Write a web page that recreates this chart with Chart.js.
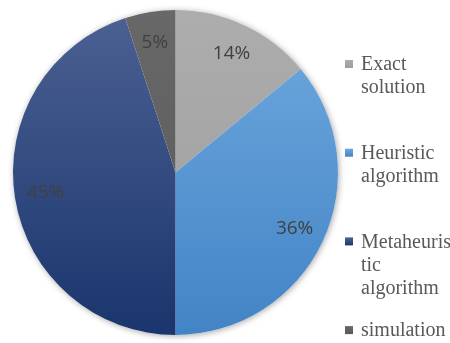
<!DOCTYPE html>
<html>
<head>
<meta charset="utf-8">
<script src="https://cdn.jsdelivr.net/npm/chart.js@4/dist/chart.umd.min.js"></script>
<style>
  html, body { margin: 0; padding: 0; background: #fff; }
  #wrap { width: 450px; height: 343px; }
  .preload { position: absolute; left: -999px; top: 0; }
</style>
</head>
<body>
<div class="preload" style="font-family:'Liberation Serif'">Exact</div>
<div class="preload" style="font-family:'Open Sans'">14%</div>
<div id="wrap"><canvas id="pie"></canvas></div>
<script>
// chart data
const categories = [
  ['Exact', 'solution'],
  ['Heuristic', 'algorithm'],
  ['Metaheuris', 'tic', 'algorithm'],
  ['simulation']
];
const shares = [14, 36, 45, 5];
const topColors = ['#adadad', '#6fa9de', '#4c6193', '#686868'];
const bottomColors = ['#9c9c9c', '#4384c6', '#1a356d', '#585858'];

const gradFill = (ctx) => {
  const i = ctx.dataIndex;
  const area = ctx.chart.chartArea;
  if (!area) return topColors[i];
  const g = ctx.chart.ctx.createLinearGradient(0, area.top, 0, area.bottom);
  g.addColorStop(0, topColors[i]);
  g.addColorStop(1, bottomColors[i]);
  return g;
};

// soft shadow behind the whole pie
const pieShadow = {
  id: 'pieShadow',
  beforeDatasetsDraw(chart) {
    const arc = chart.getDatasetMeta(0).data[0];
    if (!arc) return;
    const ctx = chart.ctx;
    ctx.save();
    ctx.shadowColor = 'rgba(0,0,0,0.35)';
    ctx.shadowBlur = 6;
    ctx.shadowOffsetX = 1;
    ctx.shadowOffsetY = 1;
    ctx.fillStyle = '#fff';
    ctx.beginPath();
    ctx.arc(arc.x, arc.y, arc.outerRadius, 0, Math.PI * 2);
    ctx.fill();
    ctx.restore();
  }
};

// percentage labels inside the slices
const sliceLabels = {
  id: 'sliceLabels',
  afterDatasetsDraw(chart) {
    const ctx = chart.ctx;
    const meta = chart.getDatasetMeta(0);
    ctx.save();
    ctx.font = '19px "Open Sans", "Liberation Sans", sans-serif';
    ctx.fillStyle = '#404040';
    ctx.textAlign = 'center';
    ctx.textBaseline = 'middle';
    meta.data.forEach((arc, i) => {
      const mid = (arc.startAngle + arc.endAngle) / 2;
      const r = arc.outerRadius * 0.81;
      ctx.fillText(shares[i] + '%', arc.x + Math.cos(mid) * r, arc.y + Math.sin(mid) * r);
    });
    ctx.restore();
  }
};

// legend on the right, items spread evenly like the original
const sideLegend = {
  id: 'sideLegend',
  afterDraw(chart) {
    const ctx = chart.ctx;
    const labels = chart.data.labels;
    const x0 = 345, y0 = 64, step = 88.7, lineH = 23;
    ctx.save();
    ctx.font = '20px "Liberation Serif", "Times New Roman", serif';
    ctx.textBaseline = 'middle';
    labels.forEach((lines, i) => {
      const y = y0 + i * step;
      const g = ctx.createLinearGradient(0, y - 4, 0, y + 4);
      g.addColorStop(0, topColors[i]);
      g.addColorStop(1, bottomColors[i]);
      ctx.fillStyle = g;
      ctx.fillRect(x0, y - 4, 8, 8);
      ctx.fillStyle = '#595959';
      lines.forEach((t, j) => ctx.fillText(t, x0 + 16, y + j * lineH + 1));
    });
    ctx.restore();
  }
};

const draw = () => new Chart(document.getElementById('pie'), {
  type: 'pie',
  data: {
    labels: categories,
    datasets: [{
      data: shares,
      backgroundColor: gradFill,
      borderWidth: 0
    }]
  },
  options: {
    responsive: true,
    maintainAspectRatio: false,
    animation: false,
    layout: { padding: { left: 13, right: 112, top: 10, bottom: 8 } },
    plugins: {
      legend: { display: false },
      tooltip: { enabled: false }
    }
  },
  plugins: [pieShadow, sliceLabels, sideLegend]
});

Promise.all([
  document.fonts.load('20px "Liberation Serif"'),
  document.fonts.load('19px "Open Sans"')
]).then(draw, draw);
</script>
</body>
</html>
